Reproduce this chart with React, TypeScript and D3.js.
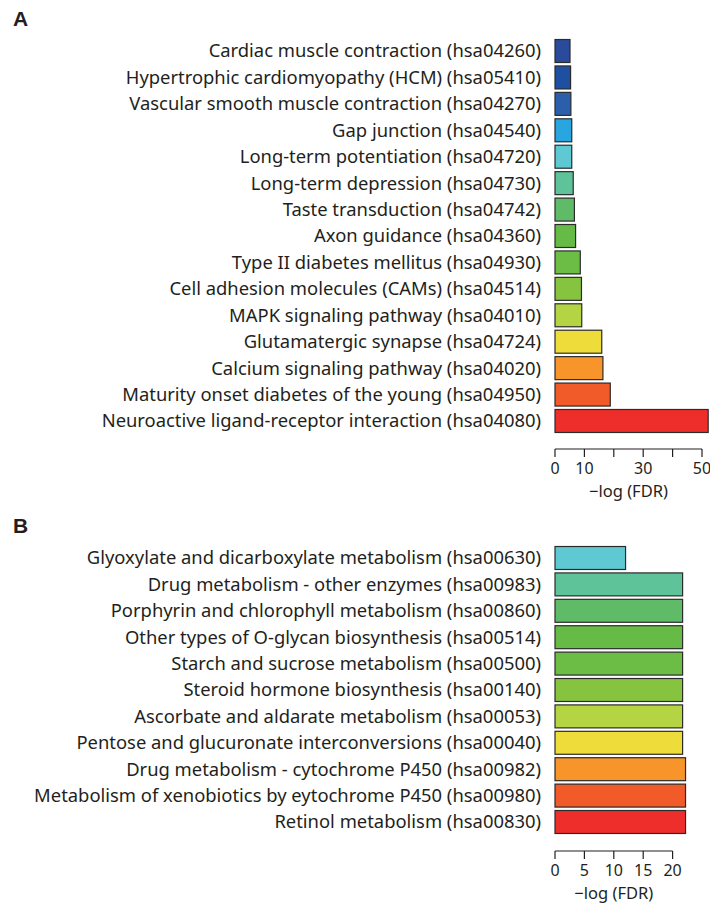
import React from 'react';
import * as d3 from 'd3';

// Panel A: KEGG pathways (top to bottom)
const pathwaysA = [
  'Cardiac muscle contraction (hsa04260)',
  'Hypertrophic cardiomyopathy (HCM) (hsa05410)',
  'Vascular smooth muscle contraction (hsa04270)',
  'Gap junction (hsa04540)',
  'Long-term potentiation (hsa04720)',
  'Long-term depression (hsa04730)',
  'Taste transduction (hsa04742)',
  'Axon guidance (hsa04360)',
  'Type II diabetes mellitus (hsa04930)',
  'Cell adhesion molecules (CAMs) (hsa04514)',
  'MAPK signaling pathway (hsa04010)',
  'Glutamatergic synapse (hsa04724)',
  'Calcium signaling pathway (hsa04020)',
  'Maturity onset diabetes of the young (hsa04950)',
  'Neuroactive ligand-receptor interaction (hsa04080)',
];
const valuesA = [5.1, 5.3, 5.4, 5.7, 5.7, 6.2, 6.6, 7.0, 8.6, 9.0, 9.1, 15.9, 16.3, 18.8, 52.1];
const colorsA = [
  '#2a4b9b', '#1f4fa0', '#2b5fac', '#29a5e0', '#5ec8d3', '#5fc39a', '#60bb68', '#66bb46',
  '#6cbd45', '#86c440', '#b5d443', '#eddc3a', '#f7952a', '#f15a29', '#ee2e2b',
];
const ticksA = [0, 10, 20, 30, 40, 50];
const tickLabelsA = ['0', '10', '', '30', '', '50'];

// Panel B
const pathwaysB = [
  'Glyoxylate and dicarboxylate metabolism (hsa00630)',
  'Drug metabolism - other enzymes (hsa00983)',
  'Porphyrin and chlorophyll metabolism (hsa00860)',
  'Other types of O-glycan biosynthesis (hsa00514)',
  'Starch and sucrose metabolism (hsa00500)',
  'Steroid hormone biosynthesis (hsa00140)',
  'Ascorbate and aldarate metabolism (hsa00053)',
  'Pentose and glucuronate interconversions (hsa00040)',
  'Drug metabolism - cytochrome P450 (hsa00982)',
  'Metabolism of xenobiotics by eytochrome P450 (hsa00980)',
  'Retinol metabolism (hsa00830)',
];
const valuesB = [12.0, 21.7, 21.7, 21.7, 21.7, 21.7, 21.7, 21.7, 22.2, 22.2, 22.2];
const colorsB = [
  '#5ec8d3', '#5fc39a', '#60bb68', '#66bb46', '#6cbd45', '#86c440', '#b5d443',
  '#eddc3a', '#f7952a', '#f15a29', '#ee2e2b',
];
const ticksB = [0, 5, 10, 15, 20];
const tickLabelsB = ['0', '5', '10', '15', '20'];

const FONT = '"Noto Sans", sans-serif';
const TEXT = '#231f20';

type PanelProps = {
  letter: string;
  letterY: number;
  names: string[];
  values: number[];
  colors: string[];
  ticks: number[];
  tickLabels: string[];
  xMax: number;
  xEnd: number;
  yTop: number;
  yBottom: number;
  axisY: number;
};

const Panel = ({ letter, letterY, names, values, colors, ticks, tickLabels, xMax, xEnd, yTop, yBottom, axisY }: PanelProps) => {
  const x = d3.scaleLinear().domain([0, xMax]).range([555, xEnd]);
  const y = d3.scaleBand<string>()
    .domain(names)
    .range([yTop, yBottom])
    .paddingInner(0.13)
    .paddingOuter(0.065);

  return (
    <g>
      <text x={13} y={letterY} fontFamily='"Liberation Sans", Arial, sans-serif' fontWeight="bold" fontSize={21} fill={TEXT}>
        {letter}
      </text>
      {names.map((name, i) => (
        <g key={name}>
          <rect
            x={x(0)}
            y={y(name)}
            width={x(values[i]) - x(0)}
            height={y.bandwidth()}
            fill={colors[i]}
            stroke="#2b2b2b"
            strokeWidth={1.2}
          />
          <text
            x={541}
            y={(y(name) ?? 0) + y.bandwidth() / 2}
            dy="0.35em"
            textAnchor="end"
            fontFamily={FONT}
            fontSize={18.4}
            fill={TEXT}
          >
            {name}
          </text>
        </g>
      ))}
      <line x1={x(ticks[0])} x2={x(ticks[ticks.length - 1])} y1={axisY} y2={axisY} stroke={TEXT} strokeWidth={1.2} />
      {ticks.map((t, i) => (
        <g key={t}>
          <line x1={x(t)} x2={x(t)} y1={axisY} y2={axisY + 8} stroke={TEXT} strokeWidth={1.2} />
          <text x={x(t)} y={axisY + 25} textAnchor="middle" fontFamily={FONT} fontSize={16} fill={TEXT}>
            {tickLabels[i]}
          </text>
        </g>
      ))}
      <text
        x={(x(ticks[0]) + x(ticks[ticks.length - 1])) / 2}
        y={axisY + 48}
        textAnchor="middle"
        fontFamily={FONT}
        fontSize={16.5}
        fill={TEXT}
      >
        −log (FDR)
      </text>
    </g>
  );
};

export default function App() {
  return (
    <svg
      width={710}
      height={903}
      style={{ position: 'absolute', left: 0, top: 0, background: '#fff' }}
    >
      <Panel
        letter="A"
        letterY={26}
        names={pathwaysA}
        values={valuesA}
        colors={colorsA}
        ticks={ticksA}
        tickLabels={tickLabelsA}
        xMax={50}
        xEnd={702}
        yTop={37.8}
        yBottom={434.2}
        axisY={449}
      />
      <Panel
        letter="B"
        letterY={533}
        names={pathwaysB}
        values={valuesB}
        colors={colorsB}
        ticks={ticksB}
        tickLabels={tickLabelsB}
        xMax={20}
        xEnd={672.6}
        yTop={544.8}
        yBottom={835.2}
        axisY={851}
      />
    </svg>
  );
}
